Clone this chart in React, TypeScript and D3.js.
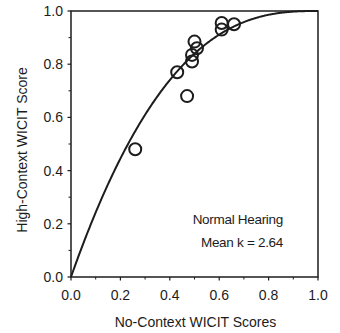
import React from "react";
import * as d3 from "d3";

// measured scores (proportion correct)
const noContext = [0.26, 0.43, 0.47, 0.49, 0.49, 0.50, 0.51, 0.61, 0.61, 0.66];
const highContext = [0.48, 0.77, 0.68, 0.81, 0.835, 0.885, 0.86, 0.93, 0.955, 0.95];

const majorTicks = [0, 0.2, 0.4, 0.6, 0.8, 1.0];
const minorTicks = [0.1, 0.3, 0.5, 0.7, 0.9];

// fitted k-factor: y = 1 - (1 - x)^k
const meanK = 2.64;

const ink = "#1c1c1c";
const font = "'Liberation Sans', Arial, sans-serif";

export default function App() {
  const width = 340;
  const height = 333;
  const left = 71, right = 318, top = 11, bottom = 277;

  const x = d3.scaleLinear().domain([0, 1]).range([left, right]);
  const y = d3.scaleLinear().domain([0, 1]).range([bottom, top]);

  const curveXs = d3.range(0, 1.0001, 0.005);
  const line = d3.line<number>()
    .x(d => x(d))
    .y(d => y(1 - Math.pow(1 - d, meanK)))
    .curve(d3.curveMonotoneX);

  return (
    <svg width={width} height={height}
      style={{ position: "absolute", left: 0, top: 0 }}
      fontFamily={font}>
      <rect x={0} y={0} width={width} height={height} fill="#fff" />

      {/* frame */}
      <rect x={left} y={top} width={right - left} height={bottom - top}
        fill="none" stroke={ink} strokeWidth={1.5} />

      {/* x ticks */}
      {majorTicks.map(t => (
        <g key={"xt" + t}>
          <line x1={x(t)} x2={x(t)} y1={bottom} y2={bottom + 3.5} stroke={ink} strokeWidth={1.2} />
          <text x={x(t)} y={300} textAnchor="middle" fontSize={14} fill={ink}>{t.toFixed(1)}</text>
        </g>
      ))}
      {minorTicks.map(t => (
        <line key={"xm" + t} x1={x(t)} x2={x(t)} y1={bottom} y2={bottom + 2.5} stroke={ink} strokeWidth={1} />
      ))}

      {/* y ticks */}
      {majorTicks.map(t => (
        <g key={"yt" + t}>
          <line x1={left - 3.5} x2={left} y1={y(t)} y2={y(t)} stroke={ink} strokeWidth={1.2} />
          <text x={63} y={y(t) + 5} textAnchor="end" fontSize={14} fill={ink}>{t.toFixed(1)}</text>
        </g>
      ))}
      {minorTicks.map(t => (
        <line key={"ym" + t} x1={left - 2.5} x2={left} y1={y(t)} y2={y(t)} stroke={ink} strokeWidth={1} />
      ))}

      {/* fitted curve */}
      <path d={line(curveXs) || ""} fill="none" stroke={ink} strokeWidth={2} />

      {/* data */}
      {noContext.map((v, i) => (
        <circle key={i} cx={x(v)} cy={y(highContext[i])} r={6}
          fill="none" stroke={ink} strokeWidth={2} />
      ))}

      {/* annotation */}
      <text x={283} y={224} textAnchor="end" fontSize={13.5} letterSpacing={-0.3} fill={ink}>Normal Hearing</text>
      <text x={283} y={247} textAnchor="end" fontSize={13.5} letterSpacing={-0.3} fill={ink}>Mean k = 2.64</text>

      {/* axis titles */}
      <text x={(left + right) / 2 + 1} y={327} textAnchor="middle" fontSize={14} fill={ink}>No-Context WICIT Scores</text>
      <text transform={`translate(27, ${(top + bottom) / 2 + 6}) rotate(-90)`} textAnchor="middle" fontSize={14} fill={ink}>High-Context WICIT Score</text>
    </svg>
  );
}
